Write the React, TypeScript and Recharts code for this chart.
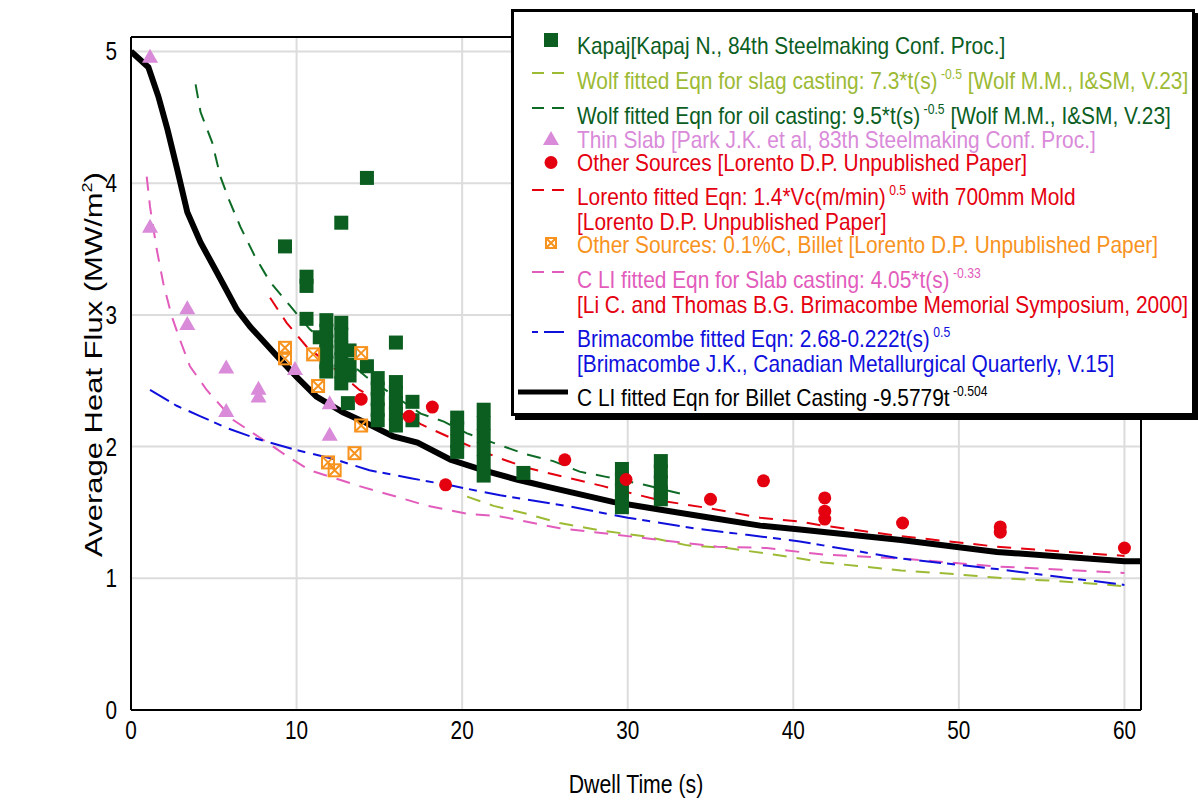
import React from "react";
import { ComposedChart, Line, Scatter, XAxis, YAxis, CartesianGrid } from "recharts";

const SANS = '"Liberation Sans", Arial, sans-serif';

const GREEN = "#0b5e1f";
const OIL = "#0d6b26";
const SLAG = "#9cba34";
const VIOLET = "#d98ad9";
const RED = "#e4000f";
const ORANGE = "#f7931e";
const PINK = "#e25cbc";
const BLUE = "#1010dd";

// every row: [dwell time (s), average heat flux (MW/m2)]
const kapajPoints = [
  [9.3, 3.52], [10.6, 3.29], [10.6, 3.22], [12.7, 3.7], [14.25, 4.04], [10.6, 2.97],
  [11.8, 2.96], [11.8, 2.88], [11.8, 2.8], [11.8, 2.72], [11.8, 2.64], [11.8, 2.57],
  [11.4, 2.83], [12.7, 2.94], [12.7, 2.85], [12.7, 2.75], [12.7, 2.66], [12.7, 2.57], [12.7, 2.48],
  [13.2, 2.73], [13.2, 2.62], [13.2, 2.54], [13.1, 2.33], [14.25, 2.61],
  [14.9, 2.52], [14.9, 2.44], [14.9, 2.36], [14.9, 2.28], [14.9, 2.2],
  [16.0, 2.79], [16.0, 2.49], [16.0, 2.41], [16.0, 2.33], [16.0, 2.25], [16.0, 2.16],
  [17.0, 2.34], [17.0, 2.2],
  [19.7, 2.22], [19.7, 2.14], [19.7, 2.04], [19.7, 1.96],
  [21.3, 2.28], [21.3, 2.18], [21.3, 2.08], [21.3, 1.98], [21.3, 1.88], [21.3, 1.78],
  [23.7, 1.8],
  [29.65, 1.83], [29.65, 1.75], [29.65, 1.67], [29.65, 1.59], [29.65, 1.54],
  [32.0, 1.89], [32.0, 1.81], [32.0, 1.73], [32.0, 1.65], [32.0, 1.6],
];
const thinSlabPoints = [
  [1.15, 4.96], [1.15, 3.67], [3.4, 3.05], [3.4, 2.93], [5.75, 2.6], [5.75, 2.27],
  [7.7, 2.44], [7.7, 2.38], [9.9, 2.59], [12.0, 2.33], [12.0, 2.09],
];
const otherSourcePoints = [
  [13.9, 2.36], [16.8, 2.23], [18.2, 2.3], [19.0, 1.71], [26.2, 1.9], [29.9, 1.75],
  [35.0, 1.6], [38.2, 1.74], [41.9, 1.61], [41.9, 1.51], [41.9, 1.45], [46.6, 1.42],
  [52.5, 1.39], [52.5, 1.35], [60.0, 1.23],
];
const billetSourcePoints = [
  [9.3, 2.75], [9.3, 2.67], [11.0, 2.7], [13.9, 2.71], [11.3, 2.46], [13.9, 2.16],
  [13.5, 1.95], [11.9, 1.88], [12.3, 1.82],
];

const wolfSlagCurve = [
  [20.3, 1.62], [21.9, 1.55], [23.9, 1.49], [25.9, 1.42], [28.5, 1.36], [31, 1.32],
  [33.6, 1.25], [36, 1.23], [38.8, 1.18], [40.4, 1.15], [41.8, 1.12], [46.5, 1.06],
  [49.9, 1.03], [52.7, 1.0], [55.9, 0.98], [60, 0.94],
];
const wolfOilCurve = [
  [3.9, 4.75], [4.2, 4.54], [4.9, 4.31], [5.4, 4.05], [5.9, 3.88], [6.6, 3.67], [7.5, 3.44],
  [8.4, 3.25], [9.6, 3.07], [10.8, 2.89], [11.8, 2.79], [14.2, 2.53], [17.5, 2.25],
  [18.9, 2.19], [20.3, 2.1], [22.3, 2.01], [23.9, 1.94], [25.5, 1.89], [27.1, 1.81],
  [28.7, 1.77], [31, 1.71], [33.6, 1.63],
];
const lorentoCurve = [
  [8.4, 3.13], [9.4, 2.94], [10.6, 2.76], [12.4, 2.58], [13.8, 2.43], [15.5, 2.31],
  [17.5, 2.17], [18.9, 2.09], [20.7, 1.99], [22.3, 1.91], [23.9, 1.84], [25.5, 1.79],
  [28.5, 1.7], [32, 1.59], [35, 1.53], [38, 1.46], [40.4, 1.43], [41.8, 1.4],
  [46.5, 1.32], [52.3, 1.24], [60, 1.17],
];
const liSlabCurve = [
  [0.95, 4.05], [1.15, 3.82], [1.55, 3.5], [1.95, 3.24], [2.46, 2.99], [2.96, 2.81],
  [3.56, 2.61], [4.57, 2.43], [6.2, 2.2], [8.0, 2.05], [9.4, 1.93], [10.8, 1.82],
  [13.8, 1.7], [16.3, 1.61], [17.9, 1.55], [20.3, 1.49], [22.3, 1.47], [25.9, 1.38],
  [28.7, 1.34], [32, 1.29], [35.4, 1.24], [38.4, 1.23], [40.4, 1.2], [41.8, 1.18],
  [46.5, 1.15], [52.3, 1.09], [60, 1.04],
];
const brimacombeCurve = [
  [1.15, 2.43], [2.76, 2.31], [4.2, 2.23], [5.8, 2.14], [7.6, 2.06], [9.8, 1.98],
  [12.4, 1.9], [14.4, 1.82], [16.9, 1.76], [19.5, 1.7], [22.3, 1.63], [26.3, 1.55],
  [30, 1.46], [34, 1.38], [37.2, 1.33], [40.4, 1.28], [41.8, 1.25], [46.5, 1.15],
  [52.3, 1.07], [60, 0.95],
];
const liBilletCurve = [
  [0, 5.0], [1.05, 4.88], [1.65, 4.66], [2.2, 4.41], [2.8, 4.1], [3.4, 3.78], [4.2, 3.55],
  [5.2, 3.32], [6.4, 3.04], [7.2, 2.91], [8.8, 2.69], [10, 2.53], [11.2, 2.38],
  [12.8, 2.26], [14.2, 2.18], [15.8, 2.08], [17.3, 2.03], [19.3, 1.9], [21.3, 1.82],
  [23.3, 1.75], [25.3, 1.69], [29.1, 1.58], [32, 1.52], [35, 1.46], [38, 1.4],
  [40.4, 1.37], [46.5, 1.29], [52.3, 1.2], [60, 1.13], [61, 1.13],
];

const xMajorTicks = [0, 10, 20, 30, 40, 50, 60];
const xMinorTicks = [0, 2, 4, 6, 8, 10, 12, 14, 16, 18, 20, 22, 24, 26, 28, 30, 32, 34, 36, 38, 40, 42, 44, 46, 48, 50, 52, 54, 56, 58, 60];
const yMajorTicks = [0, 1, 2, 3, 4, 5];
const yMinorTicks = [0, 0.2, 0.4, 0.6, 0.8, 1, 1.2, 1.4, 1.6, 1.8, 2, 2.2, 2.4, 2.6, 2.8, 3, 3.2, 3.4, 3.6, 3.8, 4, 4.2, 4.4, 4.6, 4.8, 5];

const pts = (rows: number[][]) => rows.map(([x, y]) => ({ x, y }));

const Square = (p: any) => (p.cx == null ? null : <rect x={p.cx - 7} y={p.cy - 7} width={14} height={14} fill={GREEN} />);
const Triangle = (p: any) =>
  p.cx == null ? null : <path d={`M${p.cx},${p.cy - 8} L${p.cx + 8},${p.cy + 6} L${p.cx - 8},${p.cy + 6} Z`} fill={VIOLET} />;
const Dot = (p: any) => (p.cx == null ? null : <circle cx={p.cx} cy={p.cy} r={6.5} fill={RED} />);
const BoxX = (p: any) =>
  p.cx == null ? null : (
    <g stroke={ORANGE} strokeWidth={2} fill="none">
      <rect x={p.cx - 6} y={p.cy - 6} width={12} height={12} />
      <path d={`M${p.cx - 6},${p.cy - 6} L${p.cx + 6},${p.cy + 6} M${p.cx + 6},${p.cy - 6} L${p.cx - 6},${p.cy + 6}`} />
    </g>
  );

// the reference type is tall and condensed, so squeeze it horizontally
const XTick = ({ x, y, payload }: any) => (
  <text transform={`translate(${x},${y}) scale(0.83 1)`} textAnchor="middle" dy="0.71em" fontSize={25} fontFamily={SANS} fill="#000">
    {payload.value}
  </text>
);
const YTick = ({ x, y, payload }: any) => (
  <text transform={`translate(${x},${y}) scale(0.83 1)`} textAnchor="end" dy="0.36em" fontSize={25} fontFamily={SANS} fill="#000">
    {payload.value}
  </text>
);

const XTitle = ({ viewBox }: any) => (
  <text
    transform={`translate(${viewBox.x + viewBox.width / 2}, ${viewBox.y + viewBox.height - 7}) scale(0.85 1)`}
    textAnchor="middle"
    fontSize={25}
    fontFamily={SANS}
    fill="#000"
  >
    Dwell Time (s)
  </text>
);

const YTitle = ({ viewBox }: any) => (
  <text
    transform={`translate(${viewBox.x + 31}, ${viewBox.y + viewBox.height / 2 - 9}) scale(0.8 1) rotate(-90)`}
    textAnchor="middle"
    fontSize={31}
    fontFamily={SANS}
    fill="#000"
  >
    Average Heat Flux (MW/m<tspan dy={-12} fontSize={18}>2</tspan>
    <tspan dy={12}>)</tspan>
  </text>
);

const Sup = ({ children }: { children: React.ReactNode }) => (
  <span style={{ fontSize: 14, lineHeight: 0, position: "relative", top: -10, marginLeft: 4 }}>{children}</span>
);

const row = (top: number, color: string): React.CSSProperties => ({
  position: "absolute",
  left: 63,
  top,
  color,
  whiteSpace: "nowrap",
  transform: "scaleX(0.87)",
  transformOrigin: "0 0",
});

function LegendBox() {
  return (
    <div
      style={{
        position: "absolute",
        left: 511,
        top: 9,
        width: 678,
        height: 401,
        border: "3px solid #000",
        boxShadow: "4px 4px 0 #000",
        background: "#fff",
        fontFamily: SANS,
        fontSize: 24,
        lineHeight: "25px",
      }}
    >
      <svg width={678} height={401} style={{ position: "absolute", left: 0, top: 0 }}>
        <rect x={30} y={21} width={14} height={14} fill={GREEN} />
        <line x1={18} x2={50} y1={61} y2={61} stroke={SLAG} strokeWidth={2} strokeDasharray="12 8" />
        <line x1={18} x2={50} y1={96} y2={96} stroke={OIL} strokeWidth={2} strokeDasharray="12 8" />
        <path d="M37,119 L45,133 L29,133 Z" fill={VIOLET} />
        <circle cx={37} cy={150.5} r={6.5} fill={RED} />
        <line x1={18} x2={50} y1={178} y2={178} stroke={RED} strokeWidth={2} strokeDasharray="12 8" />
        <g stroke={ORANGE} strokeWidth={2} fill="none">
          <rect x={32} y={226} width={10} height={10} />
          <path d="M32,226 L42,236 M42,226 L32,236" />
        </g>
        <line x1={18} x2={50} y1={260} y2={260} stroke={PINK} strokeWidth={2} strokeDasharray="12 8" />
        <line x1={18} x2={50} y1={320} y2={320} stroke={BLUE} strokeWidth={2} strokeDasharray="6 6 20" />
        <line x1={4} x2={54} y1={380} y2={380} stroke="#000" strokeWidth={5} />
      </svg>
      <div style={row(21, GREEN)}>Kapaj[Kapaj N., 84th Steelmaking Conf. Proc.]</div>
      <div style={row(56, SLAG)}>
        Wolf fitted Eqn for slag casting: 7.3*t(s)<Sup>-0.5</Sup> [Wolf M.M., I&amp;SM, V.23]
      </div>
      <div style={row(91, GREEN)}>
        Wolf fitted Eqn for oil casting: 9.5*t(s)<Sup>-0.5</Sup> [Wolf M.M., I&amp;SM, V.23]
      </div>
      <div style={row(115, VIOLET)}>Thin Slab [Park J.K. et al, 83th Steelmaking Conf. Proc.]</div>
      <div style={row(138, RED)}>Other Sources [Lorento D.P. Unpublished Paper]</div>
      <div style={row(172, RED)}>
        Lorento fitted Eqn: 1.4*Vc(m/min)<Sup>0.5</Sup> with 700mm Mold
        <br />
        [Lorento D.P. Unpublished Paper]
      </div>
      <div style={row(220, ORANGE)}>Other Sources: 0.1%C, Billet [Lorento D.P. Unpublished Paper]</div>
      <div style={row(255, PINK)}>
        C LI fitted Eqn for Slab casting: 4.05*t(s)<Sup>-0.33</Sup>
        <br />
        <span style={{ color: RED }}>[Li C. and Thomas B.G. Brimacombe Memorial Symposium, 2000]</span>
      </div>
      <div style={row(314, BLUE)}>
        Brimacombe fitted Eqn: 2.68-0.222t(s)<Sup>0.5</Sup>
        <br />
        [Brimacombe J.K., Canadian Metallurgical Quarterly, V.15]
      </div>
      <div style={row(373, "#000")}>
        C LI fitted Eqn for Billet Casting -9.5779t<Sup>-0.504</Sup>
      </div>
    </div>
  );
}

export default function App() {
  const axisLine = { stroke: "#000", strokeWidth: 2 };
  const tickLine = { stroke: "#000", strokeWidth: 2 };
  const dom: [number, number] = [0, 5.11];
  const xdom: [number, number] = [0, 61];
  return (
    <div style={{ position: "absolute", left: 0, top: 0, width: 1198, height: 800, background: "#fff" }}>
      <ComposedChart width={1198} height={800} margin={{ top: 37, right: 57, bottom: 0, left: 71 }}>
        <CartesianGrid xAxisId="x" yAxisId="y" stroke="#dcdcdc" strokeWidth={2} />
        <XAxis
          xAxisId="x"
          type="number"
          dataKey="x"
          domain={xdom}
          allowDataOverflow
          ticks={xMajorTicks}
          interval={0}
          height={90}
          tickLine={false}
          tickSize={0}
          tickMargin={11}
          axisLine={axisLine}
          tick={<XTick />}
          label={<XTitle />}
        />
        <XAxis xAxisId="xb" type="number" domain={xdom} allowDataOverflow ticks={xMinorTicks} interval={0} mirror height={1} tick={false} tickSize={6} tickLine={tickLine} axisLine={false} />
        <XAxis xAxisId="xbM" type="number" domain={xdom} allowDataOverflow ticks={xMajorTicks} interval={0} mirror height={1} tick={false} tickSize={11} tickLine={tickLine} axisLine={false} />
        <XAxis xAxisId="xt" orientation="top" type="number" domain={xdom} allowDataOverflow ticks={xMinorTicks} interval={0} mirror height={1} tick={false} tickSize={7} tickLine={tickLine} axisLine={axisLine} />
        <YAxis
          yAxisId="y"
          type="number"
          dataKey="y"
          domain={dom}
          allowDataOverflow
          ticks={yMajorTicks}
          interval={0}
          width={60}
          tickLine={false}
          tickSize={0}
          tickMargin={14}
          axisLine={axisLine}
          tick={<YTick />}
          label={<YTitle />}
        />
        <YAxis yAxisId="yl" type="number" domain={dom} allowDataOverflow ticks={yMinorTicks} interval={0} mirror width={1} tick={false} tickSize={7} tickLine={tickLine} axisLine={false} />
        <YAxis yAxisId="ylM" type="number" domain={dom} allowDataOverflow ticks={yMajorTicks} interval={0} mirror width={1} tick={false} tickSize={12} tickLine={tickLine} axisLine={false} />
        <YAxis yAxisId="yr" orientation="right" type="number" domain={dom} allowDataOverflow ticks={yMinorTicks} interval={0} mirror width={1} tick={false} tickSize={7} tickLine={tickLine} axisLine={axisLine} />

        <Line xAxisId="x" yAxisId="y" data={pts(wolfSlagCurve)} dataKey="y" stroke={SLAG} strokeWidth={2} strokeDasharray="14 10" dot={false} activeDot={false} isAnimationActive={false} />
        <Line xAxisId="x" yAxisId="y" data={pts(wolfOilCurve)} dataKey="y" stroke={OIL} strokeWidth={2} strokeDasharray="14 10" dot={false} activeDot={false} isAnimationActive={false} />
        <Line xAxisId="x" yAxisId="y" data={pts(lorentoCurve)} dataKey="y" stroke={RED} strokeWidth={2} strokeDasharray="14 10" dot={false} activeDot={false} isAnimationActive={false} />
        <Line xAxisId="x" yAxisId="y" data={pts(liSlabCurve)} dataKey="y" stroke={PINK} strokeWidth={2} strokeDasharray="14 10" dot={false} activeDot={false} isAnimationActive={false} />
        <Line xAxisId="x" yAxisId="y" data={pts(brimacombeCurve)} dataKey="y" stroke={BLUE} strokeWidth={2} strokeDasharray="22 6 8 8" dot={false} activeDot={false} isAnimationActive={false} />
        <Scatter xAxisId="x" yAxisId="y" data={pts(thinSlabPoints)} dataKey="y" shape={Triangle} isAnimationActive={false} />
        <Line xAxisId="x" yAxisId="y" data={pts(liBilletCurve)} dataKey="y" stroke="#000" strokeWidth={6} dot={false} activeDot={false} isAnimationActive={false} />
        <Scatter xAxisId="x" yAxisId="y" data={pts(kapajPoints)} dataKey="y" shape={Square} isAnimationActive={false} />
        <Scatter xAxisId="x" yAxisId="y" data={pts(otherSourcePoints)} dataKey="y" shape={Dot} isAnimationActive={false} />
        <Scatter xAxisId="x" yAxisId="y" data={pts(billetSourcePoints)} dataKey="y" shape={BoxX} isAnimationActive={false} />
      </ComposedChart>
      <LegendBox />
    </div>
  );
}
